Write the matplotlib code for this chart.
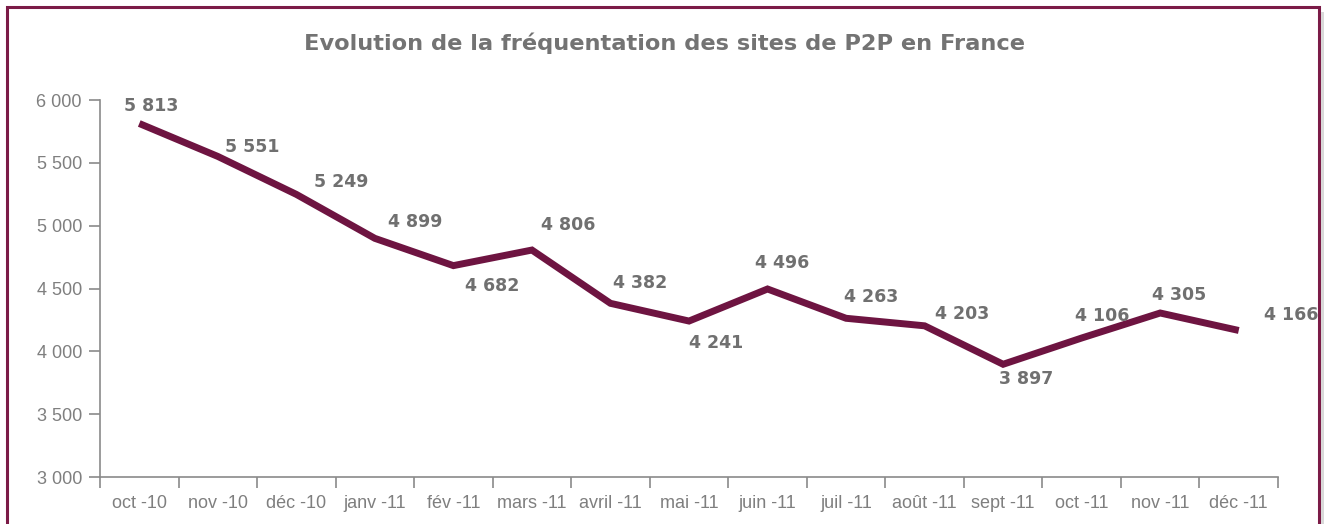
import matplotlib
matplotlib.use("Agg")
import matplotlib.pyplot as plt
from matplotlib.patches import Rectangle

categories = ["oct -10", "nov -10", "déc -10", "janv -11", "fév -11", "mars -11", "avril -11",
              "mai -11", "juin -11", "juil -11", "août -11", "sept -11", "oct -11", "nov -11", "déc -11"]
values = [5813, 5551, 5249, 4899, 4682, 4806, 4382, 4241, 4496, 4263, 4203, 3897, 4106, 4305, 4166]
value_labels = ["5 813", "5 551", "5 249", "4 899", "4 682", "4 806", "4 382", "4 241", "4 496",
                "4 263", "4 203", "3 897", "4 106", "4 305", "4 166"]
yticks = [3000, 3500, 4000, 4500, 5000, 5500, 6000]
ytick_labels = ["3 000", "3 500", "4 000", "4 500", "5 000", "5 500", "6 000"]
title = "Evolution de la fréquentation des sites de P2P en France"

# label offsets in pixels (dx, dy) relative to points
offsets = [(12, 17), (34, 9), (45, 12), (40, 16), (39, -20), (36, 25), (30, 20), (27, -22),
           (15, 26), (25, 21), (38, 12), (23, -15), (21, 22), (19, 18), (52, 15)]

W, H = 1328, 524
fig = plt.figure(figsize=(W / 100, H / 100), dpi=100)
fig.patch.set_facecolor("white")

# outer frame
fig.patches.append(Rectangle((7 / W, -0.05), 1312 / W, 1.05 - 7 / H, transform=fig.transFigure,
                             fill=False, edgecolor="#7B1B47", linewidth=2.2))
fig.patches.append(Rectangle((1321 / W, -0.05), 3 / W, 1.05 - 12 / H, transform=fig.transFigure,
                             facecolor="#d9d9d9", edgecolor="none"))

ax = fig.add_axes([100 / W, 47 / H, 1178 / W, 377 / H])
x = list(range(len(categories)))
ax.plot(x, values, color="#6E1441", linewidth=5, solid_joinstyle="miter", solid_capstyle="butt")
ax.set_xlim(-0.5, len(categories) - 0.5)
ax.set_ylim(3000, 6000)

for xi, v, lab, (dx, dy) in zip(x, values, value_labels, offsets):
    ax.annotate(lab, (xi, v), xytext=(dx, dy), textcoords="offset pixels", ha="center", va="center",
                fontsize=12.5, fontweight="bold", color="#707070", family="DejaVu Sans")

ax.set_yticks(yticks)
ax.set_yticklabels(ytick_labels)
ax.set_xticks([i + 0.5 for i in range(-1, len(categories))], minor=False)
ax.set_xticklabels([])
ax.set_xticks(x, minor=True)
ax.set_xticklabels(categories, minor=True)
ax.tick_params(axis="x", which="major", length=8, width=1.2, color="#8a8a8a", direction="out")
ax.tick_params(axis="x", which="minor", length=0, pad=13, labelsize=13, labelcolor="#7f7f7f")
ax.tick_params(axis="y", length=8, width=1.2, color="#8a8a8a", pad=5, labelsize=13, labelcolor="#7f7f7f")
for lbl in ax.get_xticklabels(minor=True) + ax.get_yticklabels():
    lbl.set_family("Liberation Sans")

for s in ["top", "right"]:
    ax.spines[s].set_visible(False)
for s in ["left", "bottom"]:
    ax.spines[s].set_color("#8a8a8a")
    ax.spines[s].set_linewidth(1.2)

fig.text(0.5, 1 - 43 / H, title, ha="center", va="center", fontsize=16.2, fontweight="bold",
         color="#737373", family="DejaVu Sans")

fig.savefig("out.png", dpi=100)
